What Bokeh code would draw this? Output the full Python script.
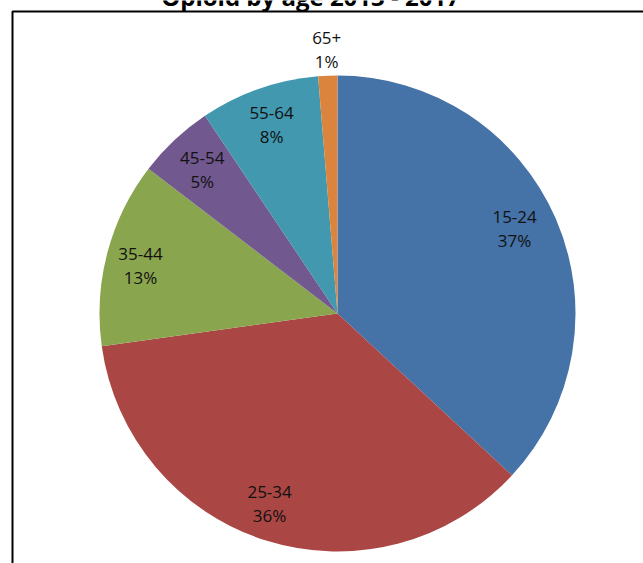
import math
from bokeh.plotting import figure
from bokeh.models import Range1d, ColumnDataSource
from bokeh.core.properties import value
from bokeh.embed import file_html
from bokeh.resources import INLINE

# ---- data ----
age_groups = ["15-24", "25-34", "35-44", "45-54", "55-64", "65+"]
shares = [36.9, 35.9, 12.6, 5.2, 8.1, 1.3]
colors = ["#4572A7", "#AA4643", "#89A54E", "#71588F", "#4198AF", "#DB843D"]
title_text = "Opioid by age 2013 - 2017"

W, H = 643, 563
cx, cy, R = 337, H - 313, 238
# label placement (style): radius factor and small angular nudge (degrees)
label_r = [0.825, 0.848, 0.852, 0.83, 0.84, 1.11]
label_da = [2.0, -2.2, 1.1, 0.0, 0.0, 0.0]

total = sum(shares)
starts, ends, lx, ly, labels = [], [], [], [], []
cum = 0.0
for i, s in enumerate(shares):
    a0 = math.pi / 2 - 2 * math.pi * cum / total
    cum += s
    a1 = math.pi / 2 - 2 * math.pi * cum / total
    starts.append(a0)
    ends.append(a1)
    mid = (a0 + a1) / 2 + math.radians(label_da[i])
    lx.append(cx + label_r[i] * R * math.cos(mid))
    ly.append(cy + label_r[i] * R * math.sin(mid))
    labels.append(f"{age_groups[i]}\n{round(s / total * 100):.0f}%")

src = ColumnDataSource(dict(start=starts, end=ends, color=colors,
                            lx=lx, ly=ly, label=labels))

p = figure(width=W, height=H, output_backend="svg", toolbar_location=None,
           x_range=Range1d(0, W), y_range=Range1d(0, H),
           min_border=0, border_fill_color="white", background_fill_color="white")
p.styles = {"margin": "0px"}
p.axis.visible = False
p.grid.visible = False
p.outline_line_color = None

p.wedge(x=cx, y=cy, radius=R, start_angle="start", end_angle="end",
        direction="clock", fill_color="color", line_color=None, source=src)

p.text(x="lx", y="ly", text="label", source=src, text_align="center",
       text_baseline="middle", text_font=value("Open Sans"), text_font_size="17px",
       text_line_height=1.05, text_color="#111111")

# chart frame (partially visible)
p.line(x=[12, 12, W + 5], y=[-5, H - 11, H - 11], line_color="black", line_width=2)

# title (cut off at the top)
p.text(x=[310], y=[H + 4], text=[title_text], text_align="center",
       text_baseline="alphabetic", text_font=value("Open Sans"),
       text_font_style="bold", text_font_size="24px", text_color="#000000")

open("out.html", "w").write(file_html(p, INLINE))
